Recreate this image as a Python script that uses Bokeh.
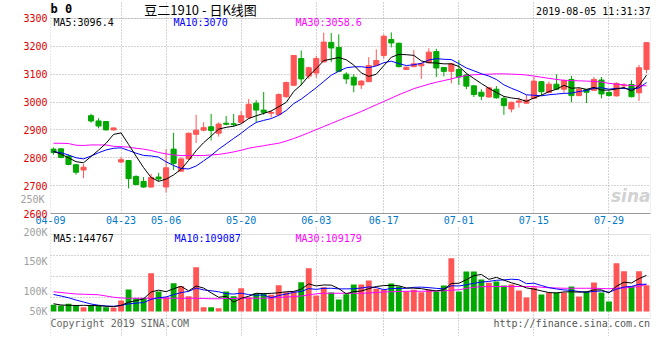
from bokeh.plotting import figure
from bokeh.models import (Range1d, FixedTicker, Label, BoxAnnotation, LinearAxis,
                          ColumnDataSource)
from bokeh.layouts import column
from bokeh.embed import file_html
from bokeh.resources import INLINE

# ---------------- data ----------------
opens = [2831, 2832, 2806, 2775, 2756, 2951, 2932, 2930, 2900, 2785,
         2790, 2733, 2715, 2695, 2731, 2695, 2831, 2752, 2796, 2884,
         2899, 2911, 2888, 2924, 2922, 2927, 2944, 2996, 2971, 2960,
         2955, 3019, 3060, 3156, 3093, 3104, 3144, 3214, 3196, 3100,
         3089, 3061, 3073, 3131, 3167, 3224, 3211, 3117, 3127, 3130,
         3141, 3181, 3124, 3110, 3117, 3097, 3058, 3035, 3018, 3046,
         3013, 2975, 2999, 2996, 3013, 3073, 3034, 3064, 3046, 3081,
         3023, 3045, 3042, 3079, 3034, 3022, 3058, 3063, 3033, 3117]
highs = [2837, 2834, 2811, 2777, 2777, 2958, 2942, 2931, 2909, 2802,
         2792, 2737, 2731, 2742, 2746, 2831, 2890, 2801, 2890, 2954,
         2927, 2957, 2927, 2950, 2957, 2967, 3011, 3007, 3036, 2971,
         3031, 3073, 3168, 3185, 3127, 3166, 3249, 3248, 3243, 3107,
         3100, 3078, 3161, 3189, 3243, 3250, 3213, 3127, 3187, 3140,
         3193, 3191, 3126, 3140, 3150, 3103, 3060, 3046, 3053, 3057,
         3021, 3001, 3016, 3026, 3090, 3075, 3074, 3099, 3081, 3094,
         3051, 3047, 3090, 3090, 3040, 3070, 3068, 3078, 3133, 3215]
lows = [2811, 2798, 2773, 2739, 2727, 2926, 2906, 2898, 2898, 2780,
        2690, 2701, 2692, 2693, 2715, 2675, 2756, 2750, 2792, 2853,
        2895, 2862, 2876, 2917, 2912, 2925, 2940, 2927, 2954, 2944,
        2953, 3015, 3058, 3060, 3083, 3087, 3144, 3144, 3107, 3065,
        3035, 3047, 3073, 3131, 3156, 3196, 3124, 3115, 3125, 3083,
        3139, 3090, 3092, 3067, 3061, 3046, 3018, 3007, 3016, 3012,
        2954, 2963, 2980, 2994, 3013, 3025, 3032, 3044, 3034, 2999,
        3021, 2996, 3040, 3013, 3020, 3020, 3050, 3017, 3004, 3103]
closes = [2819, 2801, 2776, 2748, 2766, 2932, 2914, 2900, 2907, 2793,
          2725, 2704, 2695, 2729, 2724, 2764, 2780, 2796, 2888, 2899,
          2908, 2898, 2921, 2920, 2919, 2951, 2992, 2971, 2963, 2962,
          3027, 3070, 3167, 3083, 3123, 3156, 3215, 3194, 3110, 3083,
          3061, 3075, 3131, 3149, 3236, 3212, 3127, 3125, 3137, 3137,
          3179, 3122, 3110, 3137, 3090, 3057, 3027, 3021, 3051, 3015,
          2987, 2999, 3004, 3007, 3075, 3037, 3064, 3046, 3077, 3023,
          3046, 3035, 3081, 3029, 3023, 3067, 3060, 3019, 3123, 3213]
# volume, thousands of lots
volumes_k = [27, 24, 31, 24, 17, 23, 23, 17, 15, 44,
             88, 53, 53, 153, 80, 57, 113, 101, 61, 177,
             17, 17, 13, 80, 61, 93, 57, 73, 73, 67,
             105, 77, 80, 117, 173, 64, 97, 76, 48, 69,
             108, 108, 124, 91, 87, 112, 100, 81, 87, 77,
             87, 80, 104, 213, 80, 160, 160, 128, 115, 120,
             104, 108, 84, 56, 96, 68, 75, 76, 76, 100,
             60, 80, 116, 76, 40, 193, 161, 101, 161, 105]
ma5 = [2823, 2813, 2800, 2786, 2782, 2804.6, 2827.2, 2852, 2883.8, 2889.2,
       2847.8, 2805.8, 2764.8, 2729.2, 2715.4, 2723.2, 2738.4, 2758.6, 2790.4, 2825.4,
       2854.2, 2877.8, 2902.8, 2909.2, 2913.2, 2921.8, 2940.6, 2950.6, 2959.2, 2967.8,
       2983, 2998.6, 3037.8, 3061.8, 3094, 3119.8, 3148.8, 3154.2, 3159.6, 3151.6,
       3132.6, 3104.6, 3092, 3099.8, 3130.4, 3160.6, 3171, 3169.8, 3167.4, 3147.6,
       3141, 3140, 3137, 3137, 3127.6, 3103.2, 3084.2, 3066.4, 3049.2, 3034.2,
       3020.2, 3014.6, 3011.2, 3002.4, 3014.4, 3024.4, 3037.4, 3045.8, 3059.8, 3049.4,
       3051.2, 3045.4, 3052.4, 3042.8, 3042.8, 3047, 3052, 3039.6, 3058.4, 3096.4]
ma10 = [2822, 2818, 2810, 2800, 2796, 2806, 2818, 2828, 2834, 2835.6,
        2826.2, 2816.5, 2808.4, 2806.5, 2802.3, 2785.5, 2772.1, 2761.7, 2759.8, 2770.4,
        2788.7, 2808.1, 2830.7, 2849.8, 2869.3, 2888, 2909.2, 2926.7, 2934.2, 2940.5,
        2952.4, 2969.6, 2994.2, 3010.5, 3030.9, 3051.4, 3073.7, 3096, 3110.7, 3122.8,
        3126.2, 3126.7, 3123.1, 3129.7, 3141, 3146.6, 3137.8, 3130.9, 3133.6, 3139,
        3150.8, 3155.5, 3153.4, 3152.2, 3137.6, 3122.1, 3112.1, 3101.7, 3093.1, 3080.9,
        3061.7, 3049.4, 3038.8, 3025.8, 3024.3, 3022.3, 3026, 3028.5, 3031.1, 3031.9,
        3037.8, 3041.4, 3049.1, 3051.3, 3046.1, 3049.1, 3048.7, 3046, 3050.6, 3070]
ma30 = [2852, 2852, 2851, 2845, 2844, 2846, 2846, 2846, 2841, 2840,
        2838, 2834, 2831, 2826, 2819, 2814, 2810, 2808, 2808, 2808,
        2808, 2810, 2812, 2816, 2821, 2827, 2834, 2839, 2843, 2848,
        2852, 2860, 2869, 2879, 2890, 2901, 2912, 2923, 2934, 2945,
        2955, 2966, 2978, 2990, 3002, 3014, 3026, 3037, 3048, 3056,
        3064, 3071, 3077, 3083, 3090, 3095, 3098, 3099, 3100, 3101,
        3101, 3100, 3099, 3097, 3093, 3089, 3085, 3081, 3078, 3077,
        3076, 3075, 3074, 3072, 3067, 3064, 3062, 3059, 3058, 3058.6]
vol_ma5 = [31, 26, 25, 24, 24.6, 23.8, 23.6, 20.8, 19, 24.4,
           37.4, 43.4, 50.6, 78.2, 85.4, 79.2, 91.2, 100.8, 82.4, 101.8,
           93.8, 74.6, 57, 60.8, 37.6, 52.8, 60.8, 72.8, 71.4, 72.6,
           75, 79, 80.4, 89.2, 110.4, 102.2, 106.2, 105.4, 91.6, 70.8,
           79.6, 81.8, 91.4, 100, 103.6, 104.4, 102.8, 94.2, 93.4, 91.4,
           86.4, 82.4, 87, 112.2, 112.8, 127.4, 143.4, 148.2, 128.6, 136.6,
           125.4, 115, 106.2, 94.4, 89.6, 82.4, 75.8, 74.2, 78.2, 79,
           77.4, 78.4, 86.4, 86.4, 74.4, 101, 117.2, 114.2, 131.2, 144.8]
vol_ma10 = [68, 62, 55, 46, 38, 30, 25, 22, 21, 24.5,
            30.6, 33.5, 35.7, 48.6, 54.9, 58.3, 67.3, 75.7, 80.3, 93.6,
            86.5, 82.9, 78.9, 71.6, 69.7, 73.3, 67.7, 64.9, 66.1, 55.1,
            63.9, 69.9, 76.6, 80.3, 91.5, 88.6, 92.6, 92.9, 90.4, 90.6,
            90.9, 94, 98.4, 95.8, 87.2, 92, 92.3, 92.8, 96.7, 97.5,
            95.4, 92.6, 90.6, 102.8, 102.1, 106.9, 112.9, 117.6, 120.4, 124.7,
            126.4, 129.2, 127.2, 111.5, 113.1, 103.9, 95.4, 90.2, 86.3, 84.3,
            79.9, 77.1, 80.3, 82.3, 76.7, 89.2, 97.8, 100.3, 108.8, 109.1]
vol_ma30 = [79, 76, 73, 70, 69, 68, 67, 62, 57, 54,
            53, 53, 53, 53, 53, 53, 53, 53, 53, 53,
            52, 51, 51, 52, 52, 53, 53, 53, 53, 54,
            56, 58, 60, 62, 66, 71, 73, 73, 73, 73,
            73, 73, 74, 76, 78, 79, 80, 81, 81, 81,
            81, 82, 83, 85, 87, 92, 97, 99, 100, 100,
            100, 100, 100, 100, 100, 97, 95, 94, 93, 93,
            93, 93, 93, 92, 91, 93, 94, 97, 100, 109.2]

first_date_label = "04-09"
date_tick_idx = [9, 15, 25, 35, 44, 54, 64, 74]
date_tick_labels = ["04-23", "05-06", "05-20", "06-03", "06-17", "07-01", "07-15", "07-29"]
price_ticks = [2600, 2700, 2800, 2900, 3000, 3100, 3200, 3300]
# the volume labels sit where the source drew them
vol_tick_pos = [0, 81, 201, 324]
vol_tick_labels = ["50K", "100K", "150K", "200K"]
overflow_tick_pos = [2650]
overflow_tick_labels = ["250K"]

# ---------------- styling / geometry ----------------
RED = "#FF5555"
GREEN = "#00A800"
GRID = "#A8A8A8"
BORDER = "#9A9A9A"
GREY_TXT = "#A0A0A0"
MONO = "DejaVu Sans Mono"

N = len(closes)
idx = list(range(N))
colors = [RED if c >= o else GREEN for o, c in zip(opens, closes)]

W = 652
LEFT, RIGHT = 50, 2
FRAME_W = W - LEFT - RIGHT            # 600 px
X_LO, X_HI = -0.4, 79.53
PX_PER_X = FRAME_W / (X_HI - X_LO)

P_LO, P_HI = 2600, 3300               # price panel 214 px .. 18 px
P_PX = 196 / (P_HI - P_LO)
P_TOP = P_HI + 18 / P_PX              # frame extends to the very top (header row)

V_PX = 0.25                           # px per thousand lots, zero at y=311
V_PANEL_LO, V_PANEL_HI = -28, 308     # panel box 318 px .. 234 px
V_BOTTOM, V_TOP = -100, 340           # frame 336 px .. 226 px


def fx(px):
    return X_LO + (px - LEFT) / PX_PER_X


def fpy(py):
    return P_LO + (214 - py) / P_PX


def fvy(py):
    return (311 - py) / V_PX


src = ColumnDataSource(dict(
    idx=idx, high=highs, low=lows,
    top=[max(o, c) for o, c in zip(opens, closes)],
    bottom=[min(o, c) for o, c in zip(opens, closes)],
    vol=volumes_k, color=colors,
    ma5=ma5, ma10=ma10, ma30=ma30,
    vma5=vol_ma5, vma10=vol_ma10, vma30=vol_ma30,
))

x_range = Range1d(X_LO, X_HI)
edge_tick = X_LO + 0.01
x_ticks = [edge_tick] + date_tick_idx
x_over = {edge_tick: first_date_label}
for t, lab_ in zip(date_tick_idx, date_tick_labels):
    x_over[t] = lab_


def lab(p, x, y, text, color="#000000", size="10px", font=MONO, align="left",
        baseline="middle", style="normal"):
    p.add_layout(Label(x=x, y=y, text=text, text_color=color, text_font_size=size,
                       text_font=font, text_align=align, text_baseline=baseline,
                       text_font_style=style))


def plain_axis(ax):
    ax.major_tick_line_color = None
    ax.minor_tick_line_color = None
    ax.major_tick_out = 0
    ax.major_tick_in = 0
    ax.major_label_text_font = MONO
    ax.major_label_text_font_size = "10px"


# ---------------- price panel ----------------
p1 = figure(width=W, height=226, x_range=x_range, y_range=Range1d(P_LO, P_TOP),
            output_backend="svg", toolbar_location=None, title=None,
            min_border_left=LEFT, min_border_right=RIGHT,
            min_border_top=0, min_border_bottom=12)
p1.outline_line_color = None
p1.background_fill_color = "white"
p1.border_fill_color = "white"

xa = p1.xaxis[0]
plain_axis(xa)
xa.ticker = FixedTicker(ticks=x_ticks)
xa.major_label_overrides = x_over
xa.major_label_text_color = "#0078C8"
xa.major_label_standoff = 2
xa.axis_line_color = BORDER

ya = p1.yaxis[0]
plain_axis(ya)
ya.ticker = FixedTicker(ticks=price_ticks)
ya.major_label_text_color = "#E00000"
ya.major_label_standoff = 3
ya.axis_line_color = None

ya2 = LinearAxis(ticker=FixedTicker(ticks=overflow_tick_pos),
                 major_label_overrides=dict(zip(overflow_tick_pos, overflow_tick_labels)))
plain_axis(ya2)
ya2.major_label_text_color = GREY_TXT
ya2.major_label_standoff = -24
ya2.axis_line_color = None
p1.add_layout(ya2, "left")

for g in (p1.xgrid[0], p1.ygrid[0]):
    g.grid_line_color = GRID
    g.grid_line_dash = "1 2"
    g.grid_line_width = 1
p1.xgrid[0].ticker = FixedTicker(ticks=x_ticks)
p1.xgrid[0].bounds = (P_LO, P_HI)
p1.ygrid[0].ticker = FixedTicker(ticks=price_ticks)

p1.add_layout(BoxAnnotation(left=X_LO - 5, right=X_HI, bottom=P_LO - 50, top=P_HI,
                            fill_alpha=0, line_color=BORDER, line_width=1))

p1.segment(x0="idx", y0="low", x1="idx", y1="high", color="color", line_width=1, source=src)
p1.vbar(x="idx", width=0.68, top="top", bottom="bottom", fill_color="color",
        line_color="color", line_width=1, source=src)
p1.line(x="idx", y="ma30", color="#FF00FF", line_width=1, source=src)
p1.line(x="idx", y="ma10", color="#0000FF", line_width=1, source=src)
p1.line(x="idx", y="ma5", color="#000000", line_width=1, source=src)

lab(p1, fx(53), fpy(22.5), "MA5:3096.4", "#000000")
lab(p1, fx(173), fpy(22.5), "MA10:3070", "#0000FF")
lab(p1, fx(295), fpy(22.5), "MA30:3058.6", "#FF00FF")
lab(p1, fx(50), fpy(9), "b 0", "#000000", size="12px", style="bold")
lab(p1, fx(200), fpy(9), "豆二1910 - 日K线图", "#000000", size="13px",
    font="Noto Sans CJK SC", align="center")
lab(p1, fx(650), fpy(11.5), "2019-08-05 11:31:37", "#000000", align="right")
lab(p1, fx(650), fpy(196), "sina", "#D2D2D2", size="17px", font="DejaVu Sans",
    align="right", style="bold italic")

# ---------------- volume panel ----------------
p2 = figure(width=W, height=110, x_range=x_range, y_range=Range1d(V_BOTTOM, V_TOP),
            output_backend="svg", toolbar_location=None, title=None,
            min_border_left=LEFT, min_border_right=RIGHT,
            min_border_top=0, min_border_bottom=0)
p2.outline_line_color = None
p2.background_fill_color = "white"
p2.border_fill_color = "white"
p2.xaxis.visible = False

yb = p2.yaxis[0]
plain_axis(yb)
yb.ticker = FixedTicker(ticks=vol_tick_pos)
yb.major_label_overrides = dict(zip(vol_tick_pos, vol_tick_labels))
yb.major_label_text_color = GREY_TXT
yb.major_label_standoff = 3
yb.axis_line_color = None

vstep = (V_PANEL_HI - V_PANEL_LO) / 4
for g in (p2.xgrid[0], p2.ygrid[0]):
    g.grid_line_color = GRID
    g.grid_line_dash = "1 2"
    g.grid_line_width = 1
p2.xgrid[0].ticker = FixedTicker(ticks=x_ticks)
p2.xgrid[0].bounds = (V_PANEL_LO, V_PANEL_HI)
p2.ygrid[0].ticker = FixedTicker(ticks=[V_PANEL_LO + k * vstep for k in (1, 2, 3)])

p2.add_layout(BoxAnnotation(left=X_LO - 5, right=X_HI, bottom=V_PANEL_LO, top=V_PANEL_HI,
                            fill_alpha=0, line_color=BORDER, line_width=1))

p2.vbar(x="idx", width=0.78, top="vol", bottom=0, fill_color="color",
        line_color=None, source=src)
p2.line(x="idx", y="vma30", color="#FF00FF", line_width=1, source=src)
p2.line(x="idx", y="vma10", color="#0000FF", line_width=1, source=src)
p2.line(x="idx", y="vma5", color="#000000", line_width=1, source=src)

lab(p2, fx(53), fvy(238), "MA5:144767", "#000000")
lab(p2, fx(174), fvy(238), "MA10:109087", "#0000FF")
lab(p2, fx(295), fvy(238), "MA30:109179", "#FF00FF")
lab(p2, fx(50), fvy(323), "Copyright 2019 SINA.COM", "#666666")
lab(p2, fx(649.5), fvy(323), "http://finance.sina.com.cn", "#555555", align="right")

layout = column(p1, p2, spacing=0)
open("out.html", "w").write(file_html(layout, INLINE))
